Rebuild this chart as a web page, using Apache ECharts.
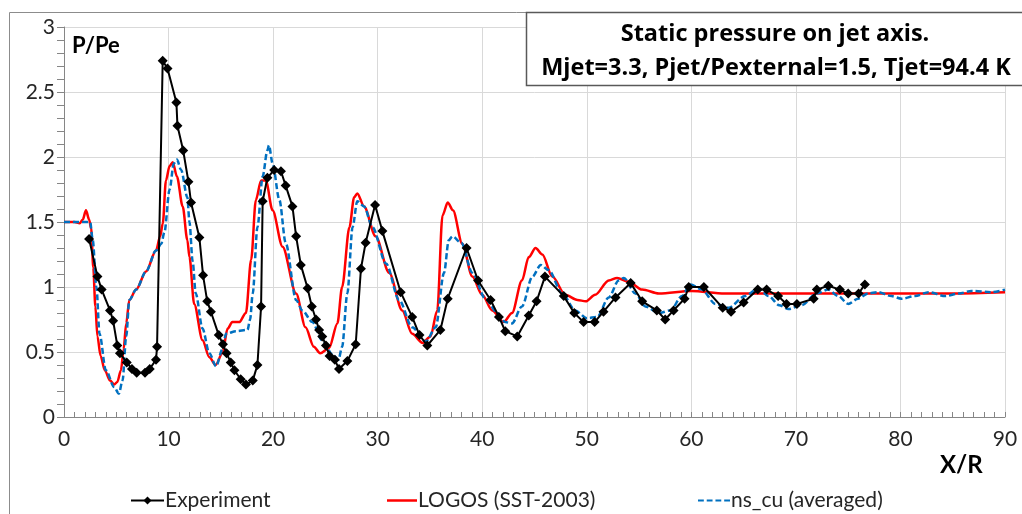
<!doctype html>
<html lang="en">
<head>
    <meta charset="UTF-8">
    <title>Static pressure on jet axis</title>
    <style>
        html, body { margin: 0; padding: 0; background: #fff; }
        #chart { width: 1022px; height: 514px; }
    </style>
</head>
<body>
<div id="chart"></div>
<script src="https://cdn.jsdelivr.net/npm/echarts@6/dist/echarts.min.js"></script>
<script>
    // Experiment (points with diamonds)
    var expX = [2.4, 3.2, 3.6, 4.4, 4.7, 5.1, 5.35, 6.0, 6.5, 6.95, 7.75, 8.2, 8.8, 8.9,
        9.44, 9.9, 10.75, 10.85, 11.4, 11.9, 12.15, 12.95, 13.3, 13.7, 14.05, 14.8, 15.2, 15.55,
        15.95, 16.3, 16.9, 17.4, 18.05, 18.5, 18.85, 19.0, 19.45, 20.1, 20.75, 21.2, 21.85, 22.2,
        22.65, 23.3, 23.7, 24.1, 24.4, 24.7, 25.05, 25.4, 25.9, 26.3, 27.1, 27.9, 28.4, 28.85,
        29.75, 30.45, 32.2, 33.3, 34.0, 34.75, 36.0, 36.7, 38.5, 39.6, 40.8, 41.6, 42.2, 43.35,
        44.45, 45.2, 46.0, 47.8, 48.8, 49.7, 50.75, 51.6, 52.75, 54.2, 55.3, 56.7, 57.5, 58.3,
        59.35, 59.75, 61.2, 63.0, 63.8, 65.0, 66.35, 67.2, 68.3, 69.1, 70.1, 71.7, 72.0, 73.1,
        74.2, 75.0, 76.0, 76.6];
    var expY = [1.37, 1.08, 0.98, 0.82, 0.74, 0.55, 0.49, 0.42, 0.37, 0.34, 0.34, 0.37, 0.44, 0.54,
        2.74, 2.68, 2.42, 2.24, 2.05, 1.81, 1.65, 1.38, 1.09, 0.89, 0.81, 0.63, 0.56, 0.49,
        0.42, 0.36, 0.29, 0.25, 0.28, 0.40, 0.85, 1.66, 1.84, 1.90, 1.89, 1.78, 1.62, 1.39,
        1.17, 0.99, 0.85, 0.75, 0.67, 0.62, 0.55, 0.47, 0.44, 0.37, 0.43, 0.56, 1.14, 1.34,
        1.63, 1.43, 0.96, 0.77, 0.63, 0.55, 0.67, 0.91, 1.30, 1.05, 0.90, 0.77, 0.66, 0.62,
        0.78, 0.89, 1.08, 0.93, 0.80, 0.73, 0.73, 0.81, 0.92, 1.03, 0.89, 0.82, 0.75, 0.82,
        0.91, 1.00, 1.00, 0.84, 0.81, 0.88, 0.98, 0.98, 0.93, 0.87, 0.87, 0.91, 0.98, 1.01,
        0.98, 0.95, 0.95, 1.02];

    // LOGOS (SST-2003)
    var logosX = [0, 1.0, 1.5, 1.8, 2.1, 2.4, 2.6, 2.8, 3.0, 3.2, 3.5, 3.9, 4.4, 4.8, 5.1, 5.45,
        5.7, 5.95, 6.25, 6.9, 7.85, 8.8, 9.2, 9.45, 9.75, 10.1, 10.4, 10.8, 11.35, 11.8, 12.0,
        12.45, 13.25, 13.9, 14.5, 15.15, 15.65, 16.1, 16.75, 17.4, 17.9, 18.35, 18.85, 19.3,
        19.95, 20.9, 22.2, 23.1, 23.9, 24.5, 25.35, 26.15, 26.6, 27.3, 27.75, 28.05, 28.7, 29.8,
        31.1, 32.35, 33.3, 34.3, 35.05, 35.7, 36.2, 36.7, 37.2, 38.1, 39.05, 40.0, 40.95, 42.05,
        42.85, 43.8, 44.45, 45.1, 45.75, 46.7, 47.95, 49.1, 49.9, 50.8, 52.1, 52.9, 54.0, 55.3,
        56.9, 60.0, 63.2, 66.4, 70, 75, 80, 85, 90];
    var logosY = [1.5, 1.5, 1.49, 1.52, 1.59, 1.52, 1.45, 1.15, 0.85, 0.62, 0.47, 0.36, 0.28, 0.25, 0.27, 0.36,
        0.52, 0.72, 0.90, 0.98, 1.12, 1.28, 1.39, 1.49, 1.82, 1.93, 1.96, 1.85, 1.62, 1.36, 1.23,
        0.87, 0.59, 0.46, 0.40, 0.49, 0.68, 0.73, 0.73, 0.80, 1.21, 1.67, 1.82, 1.82,
        1.59, 1.31, 0.95, 0.69, 0.54, 0.49, 0.53, 0.72, 1.0, 1.46, 1.69, 1.72, 1.62, 1.39,
        1.11, 0.82, 0.64, 0.57, 0.62, 0.82, 1.55, 1.65, 1.59, 1.33, 1.08, 0.94, 0.82, 0.73,
        0.80, 1.05, 1.23, 1.30, 1.25, 1.08, 0.94, 0.90, 0.89, 0.94, 1.05, 1.07, 1.04, 0.98,
        0.95, 0.97, 0.95, 0.95, 0.95, 0.95, 0.95, 0.95, 0.96];

    // ns_cu (averaged)
    var nsX = [0, 2.5, 2.75, 3.1, 3.4, 4.0, 4.8, 5.25, 5.6, 5.95, 6.25, 6.9, 7.85, 8.8, 9.3, 9.6,
        10.1, 10.5, 10.8, 11.2, 11.8, 12.0, 12.3, 12.6, 13.25, 13.9, 14.55, 15.15, 15.5, 16.45,
        17.55, 17.8, 18.05, 18.5, 19.0, 19.45, 19.6, 19.95, 20.6, 21.2, 22.2, 22.8, 23.75, 24.7,
        25.7, 26.25, 26.6, 27.1, 27.6, 28.05, 28.7, 29.5, 30.8, 32.05, 33.3, 34.6, 35.55, 36.35,
        36.8, 37.15, 38.0, 39.05, 40.3, 41.45, 42.2, 42.85, 43.8, 44.8, 45.6, 46.35, 47.65, 48.9,
        50.0, 51.0, 52.1, 53.05, 53.55, 54.65, 55.6, 56.9, 58.0, 59.1, 59.9, 61.0, 62.3, 63.55,
        65.15, 66.4, 67.4, 68.4, 69.3, 70.55, 72.0, 73.1, 74.05, 75.0, 75.95, 76.9, 77.85, 79.15,
        80.1, 81.4, 82.7, 84.3, 85.6, 86.8, 88.7, 90];
    var nsY = [1.5, 1.5, 1.36, 1.0, 0.64, 0.36, 0.23, 0.18, 0.28, 0.62, 0.90, 0.98, 1.12, 1.28, 1.33, 1.42,
        1.75, 1.95, 1.98, 1.90, 1.69, 1.50, 1.20, 0.95, 0.68, 0.49, 0.39, 0.52, 0.64, 0.66,
        0.67, 0.75, 0.95, 1.46, 1.85, 2.05, 2.09, 1.95, 1.67, 1.34, 0.90, 0.82, 0.73, 0.59,
        0.48, 0.44, 0.54, 0.95, 1.46, 1.66, 1.62, 1.46, 1.18, 0.90, 0.69, 0.58, 0.69, 1.11,
        1.36, 1.39, 1.34, 1.11, 0.91, 0.80, 0.73, 0.72, 0.85, 1.08, 1.17, 1.13, 0.95, 0.82,
        0.76, 0.77, 0.92, 1.05, 1.07, 0.95, 0.85, 0.80, 0.82, 0.93, 1.02, 0.98, 0.87, 0.84,
        0.93, 0.99, 0.93, 0.86, 0.83, 0.86, 0.95, 0.98, 0.93, 0.87, 0.91, 0.95, 0.96, 0.93,
        0.91, 0.93, 0.96, 0.93, 0.95, 0.97, 0.96, 0.98];

    var xTicks = [0, 10, 20, 30, 40, 50, 60, 70, 80, 90];
    var yTicks = [0, 0.5, 1, 1.5, 2, 2.5, 3];

    function pairs(xs, ys) {
        var out = [];
        for (var i = 0; i < xs.length; i++) out.push([xs[i], ys[i]]);
        return out;
    }

    var FONT = 'Lato, "Open Sans", sans-serif';
    var TFONT = '"Open Sans", Lato, sans-serif';
    var legendText = {fontFamily: FONT, fontSize: 21, color: '#262626', padding: [0, 0, 0, -4]};
    var chart = echarts.init(document.getElementById('chart'));
    chart.setOption({
        animation: false,
        backgroundColor: '#fff',
        grid: {left: 64, right: 17, top: 27, bottom: 97, containLabel: false},
        legend: [
            {data: ['Experiment'], left: 125, top: 485, itemWidth: 33, itemHeight: 10,
                textStyle: legendText},
            {data: [{name: 'LOGOS (SST-2003)', icon: 'rect'}], left: 382, top: 485,
                itemWidth: 30, itemHeight: 2.5, textStyle: legendText},
            {data: [{name: 'ns_cu (averaged)',
                    icon: 'path://M0,0h6v2h-6z M9,0h6v2h-6z M18,0h6v2h-6z M27,0h6v2h-6z'}],
                left: 693, top: 485, itemWidth: 32, itemHeight: 2.5, textStyle: legendText}
        ],
        xAxis: {
            type: 'value', min: xTicks[0], max: xTicks[xTicks.length - 1], interval: 10,
            axisLine: {lineStyle: {color: '#868686', width: 1}},
            axisTick: {show: true, inside: true, length: 5, lineStyle: {color: '#868686'}},
            minorTick: {show: true, splitNumber: 10, length: 5, lineStyle: {color: '#868686'}},
            axisLabel: {fontFamily: FONT, fontSize: 21, color: '#262626', margin: 12},
            splitLine: {show: true, lineStyle: {color: '#d9d9d9', width: 1}}
        },
        yAxis: {
            type: 'value', min: yTicks[0], max: yTicks[yTicks.length - 1], interval: 0.5,
            axisLine: {show: true, lineStyle: {color: '#868686', width: 1}},
            axisTick: {show: true, inside: false, length: 7, lineStyle: {color: '#868686'}},
            minorTick: {show: true, splitNumber: 5, length: 7, lineStyle: {color: '#868686'}},
            axisLabel: {fontFamily: FONT, fontSize: 21, color: '#262626', margin: 9},
            splitLine: {show: true, lineStyle: {color: '#d9d9d9', width: 1}}
        },
        series: [
            {
                name: 'LOGOS (SST-2003)', type: 'line', z: 3,
                data: pairs(logosX, logosY),
                smooth: 0.3, smoothMonotone: 'x', showSymbol: false, symbol: 'none',
                lineStyle: {color: '#ff0000', width: 2.5}, itemStyle: {color: '#ff0000'}
            },
            {
                name: 'ns_cu (averaged)', type: 'line', z: 4,
                data: pairs(nsX, nsY),
                smooth: 0.3, smoothMonotone: 'x', showSymbol: false, symbol: 'none',
                lineStyle: {color: '#0070c0', width: 2.5, type: [6, 3]}, itemStyle: {color: '#0070c0'}
            },
            {
                name: 'Experiment', type: 'line', z: 5,
                data: pairs(expX, expY),
                symbol: 'diamond', symbolSize: 10, showAllSymbol: true,
                lineStyle: {color: '#000', width: 2}, itemStyle: {color: '#000'}
            }
        ],
        graphic: [
            {type: 'rect', z: 0, silent: true,
                shape: {x: 9.5, y: 12.5, width: 1030, height: 520},
                style: {fill: null, stroke: '#8c8c8c', lineWidth: 1}},
            {type: 'rect', z: 100, silent: true,
                shape: {x: 526.5, y: 12.5, width: 500, height: 73},
                style: {fill: '#fff', stroke: '#595959', lineWidth: 1.5}},
            {type: 'text', z: 101, silent: true,
                style: {text: 'Static pressure on jet axis.', x: 775, y: 34, align: 'center', verticalAlign: 'middle',
                    font: 'bold 23.5px ' + TFONT, fill: '#000'}},
            {type: 'text', z: 101, silent: true,
                style: {text: 'Mjet=3.3, Pjet/Pexternal=1.5, Tjet=94.4 K', x: 776, y: 68, align: 'center', verticalAlign: 'middle',
                    font: 'bold 23.5px ' + TFONT, fill: '#000'}},
            {type: 'text', z: 101, silent: true,
                style: {text: 'P/Pe', x: 72, y: 46, align: 'left', verticalAlign: 'middle',
                    font: 'bold 22px ' + FONT, fill: '#000'}},
            {type: 'text', z: 101, silent: true,
                style: {text: 'X/R', x: 940, y: 465, align: 'left', verticalAlign: 'middle',
                    font: 'bold 24px ' + FONT, fill: '#000'}}
        ]
    });
</script>
</body>
</html>
